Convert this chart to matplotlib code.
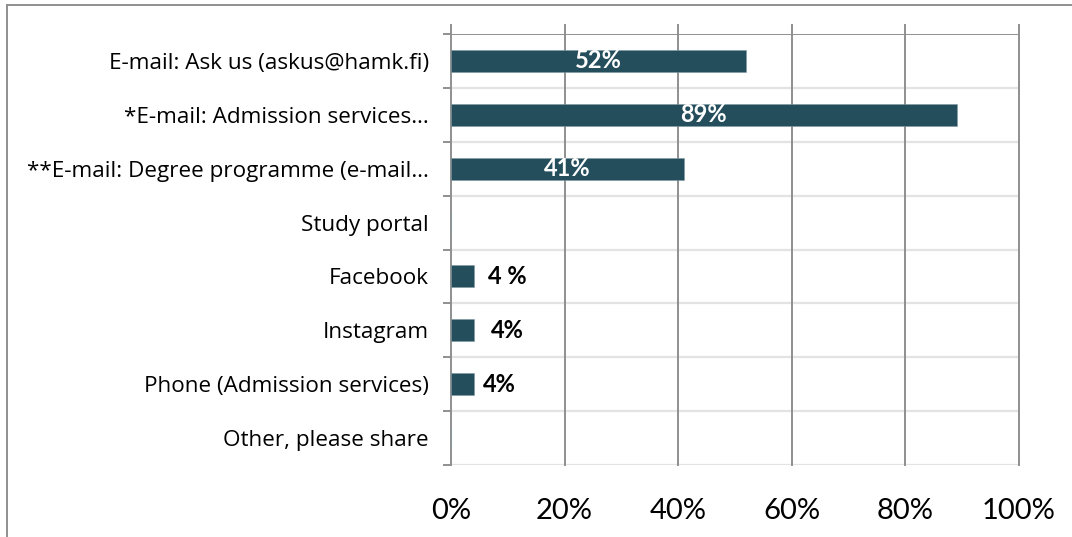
import matplotlib
matplotlib.use("Agg")
import matplotlib.pyplot as plt
from matplotlib.lines import Line2D
import numpy as np

# Survey: channels used to contact the university
categories = [
    "E-mail: Ask us (askus@hamk.fi)",
    "*E-mail: Admission services\u2026",
    "**E-mail: Degree programme (e-mail\u2026",
    "Study portal",
    "Facebook",
    "Instagram",
    "Phone (Admission services)",
    "Other, please share",
]
values = [52, 89, 41, 0, 4, 4, 4, 0]
value_labels = ["52%", "89%", "41%", "", "4 %", "4%", "4%", ""]
inside_label = [True, True, True, False, False, False, False, False]
outside_label_shift = [0, 0, 0, 0, 2.6, 3.1, 1.7, 0]  # gap after short bars, % units
xticks = [0, 20, 40, 60, 80, 100]
xtick_labels = ["0%", "20%", "40%", "60%", "80%", "100%"]

BAR = "#244e5c"
GRID = "#8f8f8f"
SEP = "#e3e3e3"

plt.rcParams["font.family"] = ["Lato", "DejaVu Sans"]
CAT_FONT = ["Open Sans", "DejaVu Sans"]

W, H = 1072, 537
fig = plt.figure(figsize=(W / 100, H / 100), dpi=100)
fig.patch.set_facecolor("white")

# plot area in pixels
left_px, right_px, top_px, bottom_px = 451, 1019, 34, 465
ax = fig.add_axes([left_px / W, 1 - bottom_px / H,
                   (right_px - left_px) / W, (bottom_px - top_px) / H])

n = len(categories)
y = np.arange(n)
ax.set_xlim(0, 100)
ax.set_ylim(n - 0.5, -0.5)

ext = 9 / (bottom_px - top_px)  # gridlines poke above the plot area

# horizontal category separators
for b in np.arange(0.5, n, 1.0):
    ax.axhline(b, color=SEP, lw=1.6, zorder=1)
ax.axhline(-0.5, color=GRID, lw=1.4, zorder=1.5)

# vertical gridlines
for xv in xticks[1:]:
    ax.axvline(xv, ymin=0, ymax=1 + ext, color=GRID, lw=1.4, zorder=1.5, clip_on=False)

ax.barh(y, values, height=0.41, color=BAR, edgecolor="#7f9ba4", linewidth=0.4, zorder=3)

for i, (v, t) in enumerate(zip(values, value_labels)):
    if not t:
        continue
    if inside_label[i]:
        ax.text(v / 2, i, t, ha="center", va="center", color="white",
                fontsize=17, fontweight="bold", zorder=4)
    else:
        ax.text(v + outside_label_shift[i], i, t, ha="left", va="center",
                color="black", fontsize=17, fontweight="bold", zorder=4)

for s in ["top", "right", "bottom"]:
    ax.spines[s].set_visible(False)
ax.spines["left"].set_color(GRID)
ax.spines["left"].set_linewidth(1.4)
ax.spines["left"].set_bounds(n - 0.5, -0.5 - ext * n)
ax.spines["left"].set_zorder(2)

ax.set_yticks(np.arange(-0.5, n, 1.0), minor=False)
ax.set_yticklabels([])
ax.set_yticks(y, minor=True)
ax.set_yticklabels(categories, minor=True, fontsize=16.2, family=CAT_FONT)
ax.tick_params(axis="y", which="major", length=6, width=1.4, color=GRID, direction="out")
ax.tick_params(axis="y", which="minor", length=0, pad=16)

ax.set_xticks(xticks)
ax.set_xticklabels(xtick_labels, fontsize=21)
ax.tick_params(axis="x", length=0, pad=24)

# outer frame of the chart area
fig.add_artist(Line2D([7 / W, 1.0], [1 - 5 / H, 1 - 5 / H], color=GRID, lw=1.4))
fig.add_artist(Line2D([7 / W, 7 / W], [0, 1 - 5 / H], color=GRID, lw=1.4))

fig.savefig("out.png", dpi=100, facecolor="white")
